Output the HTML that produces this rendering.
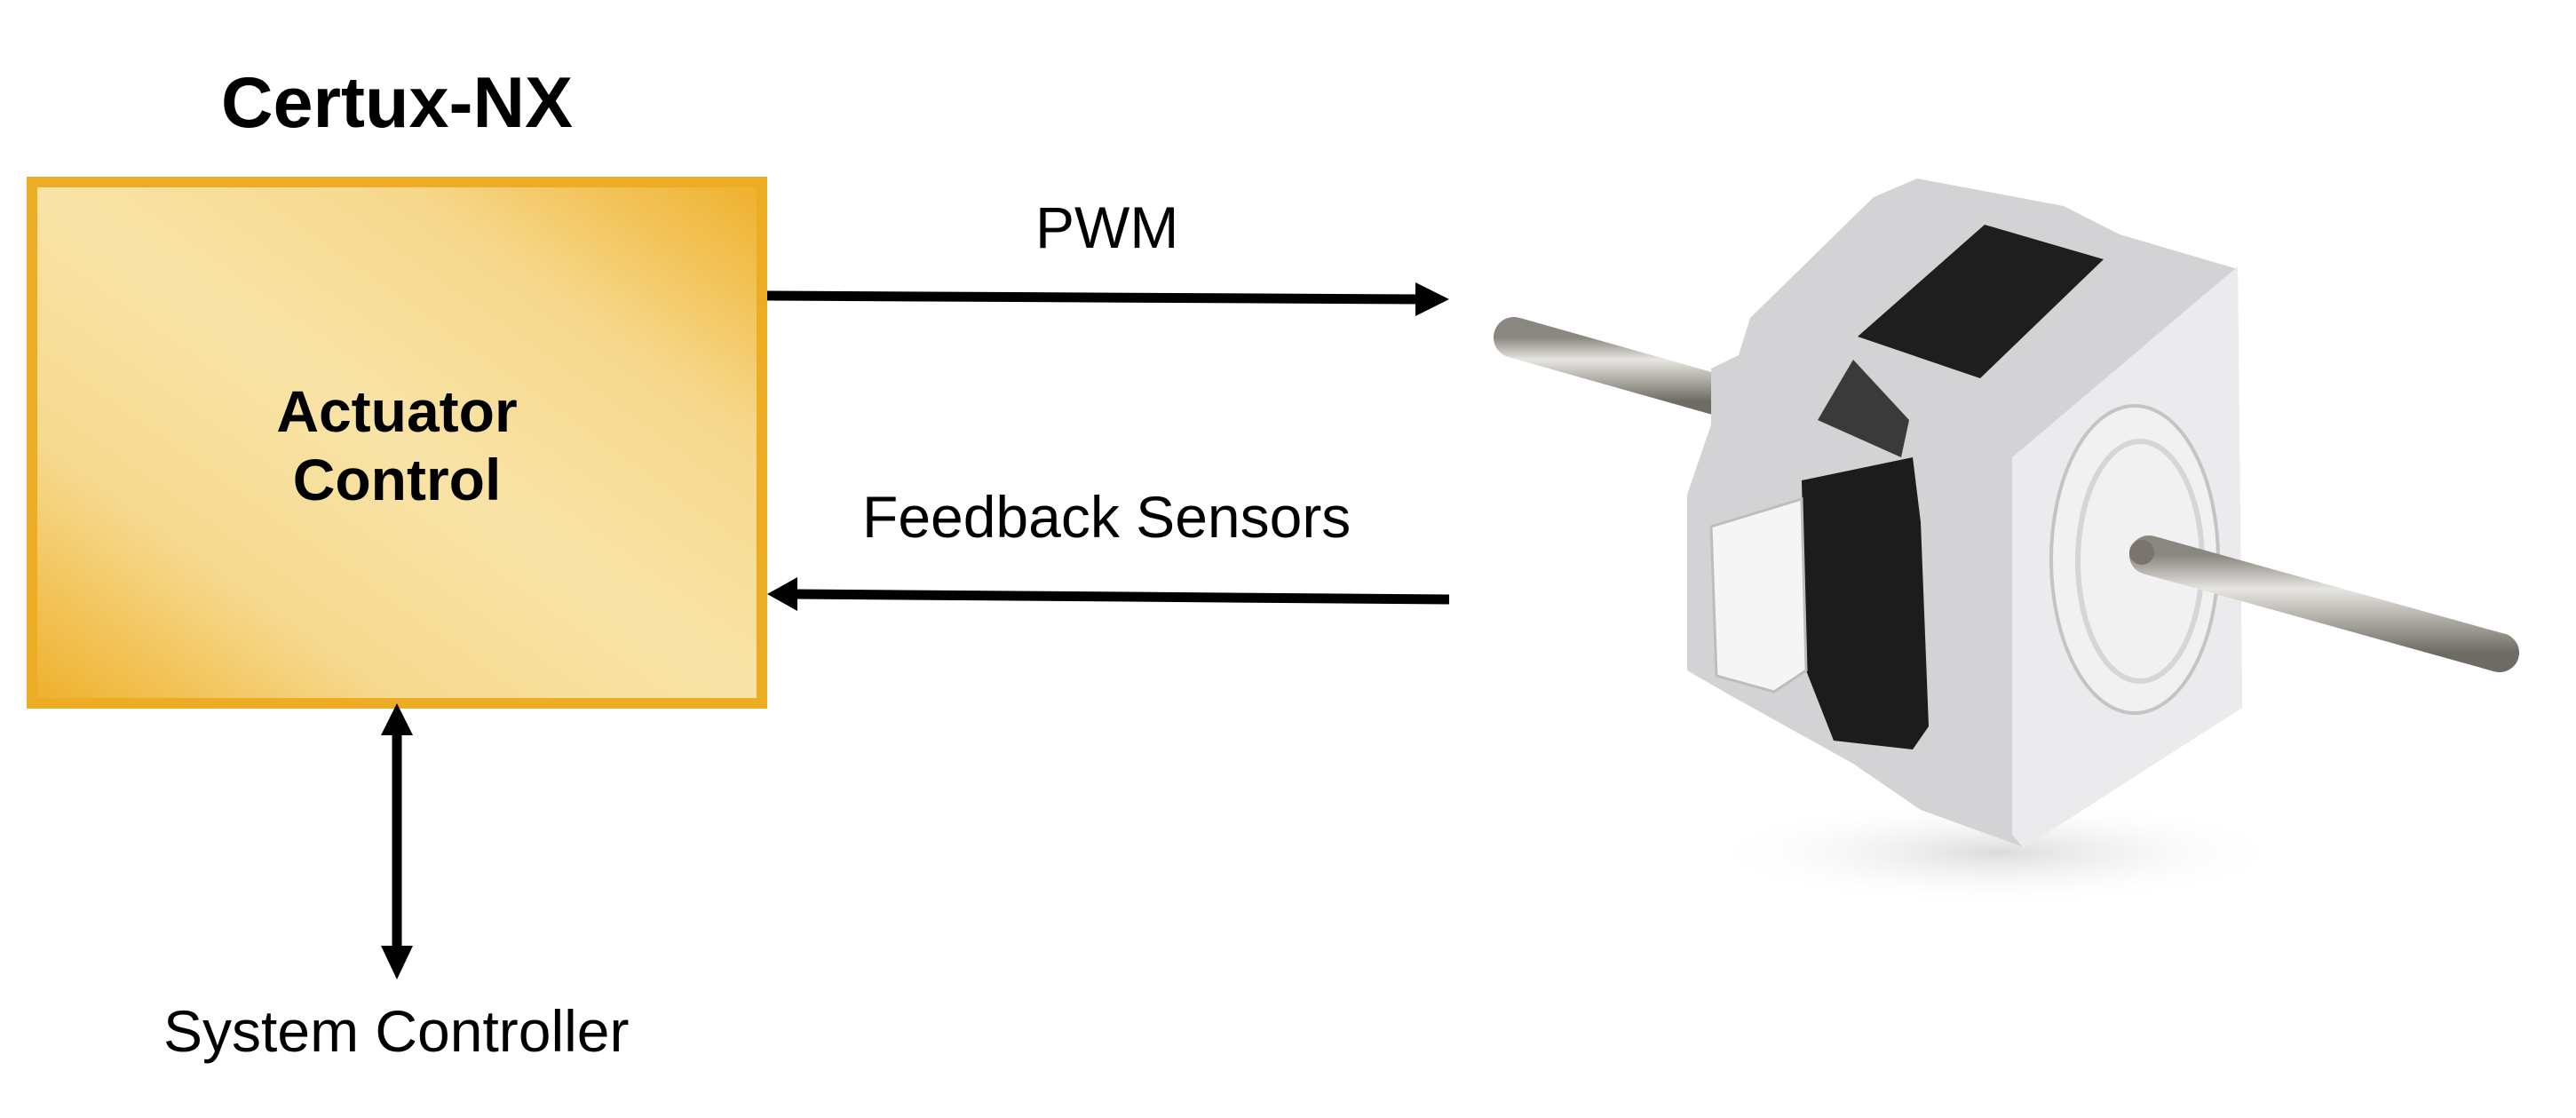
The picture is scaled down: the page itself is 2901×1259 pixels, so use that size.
<!DOCTYPE html>
<html><head><meta charset="utf-8"><style>
html,body{margin:0;padding:0;background:#fff}
svg{display:block}
text{font-family:"Liberation Sans",Arial,sans-serif}
</style></head><body>
<svg width="2901" height="1259" viewBox="0 0 2901 1259" xmlns="http://www.w3.org/2000/svg">
<defs>
<linearGradient id="g" x1="0" y1="1" x2="1" y2="0">
<stop offset="0" stop-color="#efb02a"/>
<stop offset="0.25" stop-color="#f6d98e"/>
<stop offset="0.5" stop-color="#f8e3a6"/>
<stop offset="0.75" stop-color="#f6d88c"/>
<stop offset="1" stop-color="#efb02a"/>
</linearGradient>
<linearGradient id="rod" x1="0" y1="0" x2="0" y2="1">
<stop offset="0" stop-color="#8a8680"/><stop offset="0.35" stop-color="#e8e6e2"/><stop offset="0.7" stop-color="#a8a49e"/><stop offset="1" stop-color="#6e6a64"/>
</linearGradient>
<radialGradient id="sh" cx="0.5" cy="0.5" r="0.5"><stop offset="0" stop-color="#ccc" stop-opacity="0.7"/><stop offset="1" stop-color="#fff" stop-opacity="0"/></radialGradient>
</defs>
<rect x="36" y="205" width="822" height="587" fill="url(#g)" stroke="#ecad24" stroke-width="12"/>
<text x="447" y="143" font-size="81" font-weight="bold" text-anchor="middle">Certux-NX</text>
<text x="447" y="486" font-size="66" font-weight="bold" text-anchor="middle">Actuator</text>
<text x="447" y="563" font-size="66" font-weight="bold" text-anchor="middle">Control</text>
<text x="1166" y="279" font-size="66">PWM</text>
<text x="971" y="605" font-size="66">Feedback Sensors</text>
<text x="184" y="1184" font-size="66">System Controller</text>
<line x1="864" y1="333" x2="1600" y2="337" stroke="#000" stroke-width="11"/>
<polygon points="1594,318 1632,337 1594,356" fill="#000"/>
<line x1="895" y1="669" x2="1632" y2="675" stroke="#000" stroke-width="11"/>
<polygon points="898,650 864,669 898,688" fill="#000"/>
<line x1="447" y1="825" x2="447" y2="1068" stroke="#000" stroke-width="11"/>
<polygon points="429,828 447,792 465,828" fill="#000"/>
<polygon points="429,1065 447,1103 465,1065" fill="#000"/>
<ellipse cx="2250" cy="960" rx="330" ry="60" fill="url(#sh)"/>
<line x1="1705" y1="380" x2="1960" y2="452" stroke="url(#rod)" stroke-width="46" stroke-linecap="round"/>
<polygon points="1971,358 2110,222 2159,201 2324,232 2387,264 2520,303 2525,797 2279,954 2163,912 2087,860 1945,781 1900,755 1900,557 1927,478 1927,415 1958,400" fill="#d3d3d5"/>
<polygon points="2266,515 2520,300 2525,797 2279,955 2266,940" fill="#ebebed"/>
<ellipse cx="2404" cy="630" rx="94" ry="173" fill="#f1f1f2" stroke="#c4c4c6" stroke-width="4"/>
<ellipse cx="2410" cy="632" rx="70" ry="135" fill="none" stroke="#d6d6d8" stroke-width="6"/>
<polygon points="2092,379 2235,253 2369,292 2230,426" fill="#1e1e1e"/>
<polygon points="2047,473 2087,405 2150,473 2141,515" fill="#3a3a3a"/>
<polygon points="2029,541 2154,515 2163,588 2172,818 2154,844 2065,834 2034,755" fill="#1c1c1c"/>
<polygon points="1927,593 2029,562 2034,755 1998,779 1933,761" fill="#f5f5f5" stroke="#bdbdbd" stroke-width="3"/>
<line x1="2420" y1="625" x2="2815" y2="735" stroke="url(#rod)" stroke-width="44" stroke-linecap="round"/>
<circle cx="2412" cy="622" r="14" fill="#7a746c"/>
</svg>
</body></html>
